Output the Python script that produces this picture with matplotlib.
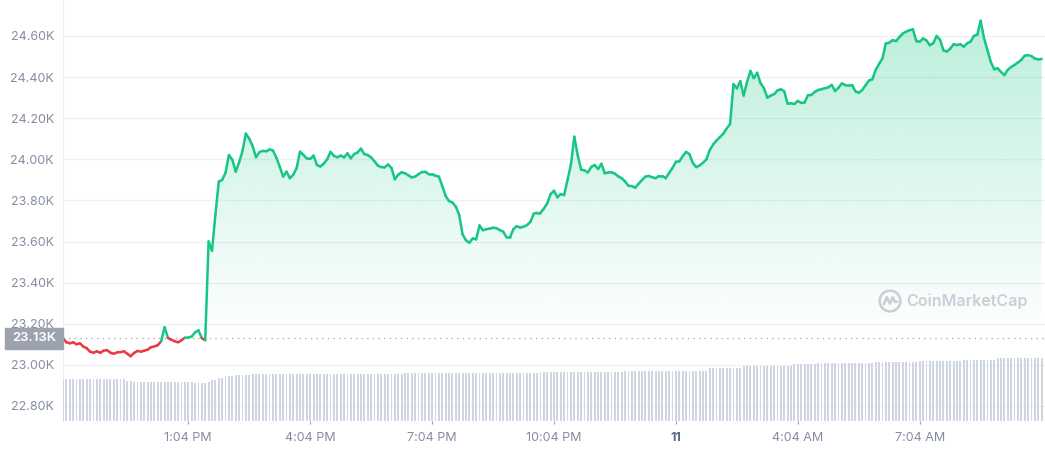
import numpy as np
import pandas as pd
import matplotlib
matplotlib.use('Agg')
import matplotlib.pyplot as plt
import matplotlib.dates as mdates
from matplotlib.collections import LineCollection
from matplotlib.patches import Rectangle, Circle

plt.rcParams['font.family'] = ['Inter', 'DejaVu Sans']

# BTC price, 5-minute steps from 9:59 AM (USD)
start_time = '2022-08-10 09:59'
price = [
    23130, 23110, 23105, 23110, 23100, 23105, 23089, 23081, 23064, 23059,
    23066, 23059, 23069, 23072, 23059, 23054, 23061, 23062, 23066, 23054,
    23042, 23058, 23068, 23064, 23069, 23074, 23086, 23090, 23096, 23115,
    23183, 23131, 23122, 23115, 23110, 23120, 23132, 23133, 23138, 23158,
    23168, 23130, 23120, 23600, 23555, 23730, 23891, 23900, 23935, 24021,
    23998, 23940, 23985, 24040, 24125, 24100, 24065, 24010, 24035, 24041,
    24039, 24048, 24043, 24008, 23965, 23916, 23940, 23908, 23925, 23958,
    24037, 24021, 24004, 24002, 24018, 23972, 23965, 23979, 24000, 24036,
    24017, 24010, 24018, 24010, 24029, 24005, 24026, 24033, 24052, 24025,
    24021, 24009, 23990, 23969, 23962, 23961, 23975, 23958, 23903, 23925,
    23937, 23932, 23922, 23912, 23916, 23928, 23938, 23939, 23928, 23928,
    23920, 23916, 23870, 23822, 23797, 23790, 23770, 23730, 23635, 23606,
    23594, 23615, 23611, 23678, 23655, 23660, 23663, 23667, 23665, 23656,
    23648, 23620, 23620, 23660, 23675, 23668, 23672, 23680, 23695, 23735,
    23740, 23740, 23760, 23786, 23831, 23847, 23815, 23831, 23826, 23900,
    23975, 24110, 24020, 23950, 23946, 23936, 23963, 23972, 23953, 23978,
    23932, 23936, 23937, 23930, 23917, 23908, 23892, 23871, 23870, 23862,
    23882, 23899, 23916, 23919, 23913, 23908, 23919, 23919, 23908, 23934,
    23958, 23988, 23990, 24015, 24036, 24025, 23982, 23962, 23970, 23983,
    24000, 24045, 24072, 24092, 24108, 24125, 24150, 24172, 24366, 24345,
    24380, 24310, 24375, 24430, 24395, 24421, 24370, 24346, 24300, 24310,
    24317, 24335, 24341, 24331, 24270, 24273, 24269, 24284, 24274, 24276,
    24312, 24313, 24328, 24337, 24341, 24346, 24350, 24362, 24332, 24348,
    24369, 24362, 24362, 24362, 24331, 24324, 24337, 24360, 24383, 24389,
    24435, 24464, 24491, 24564, 24567, 24580, 24575, 24595, 24612, 24621,
    24628, 24632, 24575, 24572, 24588, 24578, 24555, 24565, 24600, 24582,
    24530, 24524, 24538, 24560, 24556, 24560, 24548, 24564, 24572, 24600,
    24606, 24674, 24589, 24532, 24473, 24438, 24443, 24425, 24410, 24435,
    24449, 24459, 24471, 24484, 24504, 24507, 24502, 24490, 24486, 24488,
]

# 24h volume (billion USD), same time steps
volume = [
    28.0, 28.0, 28.0, 28.0, 28.0, 28.0, 28.0, 28.0, 28.0, 28.0,
    28.0, 28.0, 28.0, 28.0, 28.0, 28.0, 28.0, 28.0, 28.0, 27.1,
    27.1, 26.2, 26.2, 26.2, 26.2, 26.2, 26.2, 26.2, 26.2, 26.2,
    26.2, 26.2, 26.2, 26.2, 26.2, 26.2, 26.2, 26.2, 26.2, 25.5,
    25.5, 25.5, 25.5, 26.5, 27.5, 27.5, 28.7, 28.7, 30.2, 30.2,
    30.2, 30.9, 30.9, 30.9, 30.9, 30.9, 31.6, 31.6, 31.6, 31.6,
    31.6, 31.6, 31.6, 31.6, 31.6, 31.6, 31.6, 31.6, 31.6, 31.6,
    31.6, 31.6, 31.6, 31.6, 31.6, 31.6, 31.6, 31.6, 31.6, 31.6,
    31.6, 31.6, 31.6, 31.6, 31.6, 31.6, 31.6, 31.6, 31.6, 31.6,
    31.6, 31.6, 31.6, 31.6, 31.6, 31.6, 31.6, 31.6, 31.6, 31.6,
    31.6, 32.2, 32.2, 32.2, 32.2, 32.2, 32.2, 32.2, 32.2, 32.2,
    32.2, 32.2, 32.2, 32.2, 32.2, 32.2, 32.2, 32.2, 32.2, 32.2,
    32.2, 32.2, 32.2, 32.2, 32.2, 32.2, 32.2, 32.2, 32.2, 32.2,
    32.2, 32.2, 32.2, 32.2, 32.2, 32.2, 32.2, 32.2, 32.2, 32.2,
    32.2, 32.9, 32.9, 32.9, 32.9, 32.9, 32.9, 32.9, 32.9, 32.9,
    32.9, 32.9, 32.9, 32.9, 32.9, 32.9, 32.9, 32.9, 32.9, 32.9,
    32.9, 32.9, 32.9, 32.9, 32.9, 32.9, 33.6, 33.6, 33.6, 33.6,
    33.6, 33.6, 33.6, 33.6, 33.6, 33.6, 33.6, 33.6, 33.6, 33.6,
    33.6, 33.6, 33.6, 33.6, 33.6, 33.6, 33.6, 33.6, 33.6, 33.6,
    33.6, 35.6, 35.6, 35.6, 35.6, 35.6, 35.6, 35.6, 35.6, 35.6,
    35.6, 36.9, 36.9, 36.9, 36.9, 36.9, 36.9, 36.9, 36.9, 36.9,
    36.9, 36.9, 36.9, 36.9, 36.9, 36.9, 38.1, 38.1, 38.1, 38.1,
    38.1, 38.1, 38.1, 38.7, 38.7, 38.7, 38.7, 38.7, 38.7, 38.7,
    38.7, 38.7, 38.7, 38.7, 38.7, 38.7, 38.7, 38.7, 38.7, 38.7,
    39.4, 39.4, 39.4, 39.4, 39.4, 39.4, 39.4, 39.4, 39.4, 39.4,
    39.4, 39.4, 39.4, 40.5, 40.5, 40.5, 40.5, 40.5, 40.5, 40.5,
    40.5, 40.5, 40.5, 40.5, 40.5, 40.5, 41.0, 41.0, 41.0, 41.0,
    41.0, 41.0, 41.0, 41.0, 41.0, 41.0, 42.1, 42.1, 42.1, 42.1,
    42.1, 42.1, 42.1, 42.1, 42.1, 42.1, 42.1, 42.1, 42.1, 42.1,
]

open_price = 23130
open_label = '23.13K'
yticks = [22800, 23000, 23200, 23400, 23600, 23800, 24000, 24200, 24400, 24600]
ytick_labels = ['22.80K', '23.00K', '23.20K', '23.40K', '23.60K',
                '23.80K', '24.00K', '24.20K', '24.40K', '24.60K']
xtick_times = ['2022-08-10 13:04', '2022-08-10 16:04', '2022-08-10 19:04',
               '2022-08-10 22:04', '2022-08-11 01:04', '2022-08-11 04:04',
               '2022-08-11 07:04']
xtick_labels = ['1:04 PM', '4:04 PM', '7:04 PM', '10:04 PM', '11', '4:04 AM', '7:04 AM']

GREEN = '#16c784'
RED = '#ea3943'
LABEL = '#858ca2'

times = pd.date_range(start_time, periods=len(price), freq='5min')
x = mdates.date2num(times.to_pydatetime())
p = np.array(price, dtype=float)
step = 5 / 1440

fig = plt.figure(figsize=(10.45, 4.5), dpi=100)
ax = fig.add_axes([63 / 1045, 29 / 450, 982 / 1045, 421 / 450])
ax.set_xlim(x[0], x[0] + 290 * step)
ax.set_ylim(22727, 24775)

# gradient fill above the open price
top = np.maximum(p, open_price)
fb = ax.fill_between(x, open_price, top, color='none', lw=0)
grad = np.zeros((256, 1, 4))
grad[:, 0, 0] = 22 / 255
grad[:, 0, 1] = 199 / 255
grad[:, 0, 2] = 132 / 255
grad[:, 0, 3] = np.linspace(0, 0.31, 256)
img = ax.imshow(grad, extent=[x[0], x[-1], open_price, 24775], origin='lower',
                aspect='auto', interpolation='bilinear', zorder=1)
img.set_clip_path(fb.get_paths()[0], transform=ax.transData)

# price line, red below open, green above
pts = np.column_stack([x, p])
segs = np.stack([pts[:-1], pts[1:]], axis=1)
mid = (p[:-1] + p[1:]) / 2
cols = [GREEN if m >= open_price else RED for m in mid]
lc = LineCollection(segs, colors=cols, linewidths=1.8, capstyle='round',
                    joinstyle='round', zorder=3)
ax.add_collection(lc)

ax.axhline(open_price, color='#9aa1ae', lw=0.9, ls=(0, (1, 3.5)), zorder=2)

ax.set_yticks(yticks, ytick_labels)
ax.set_xticks(mdates.date2num(pd.to_datetime(xtick_times).to_pydatetime()), xtick_labels)
ax.tick_params(axis='y', length=0, pad=6.5, labelsize=9, labelcolor=LABEL)
ax.tick_params(axis='x', length=2.5, width=0.8, color='#9aa3b5', pad=5.5,
               labelsize=9, labelcolor=LABEL)
xl = ax.get_xticklabels()[4]
xl.set_fontweight('bold')
xl.set_color('#58667e')
ax.yaxis.grid(True, color='#eff2f5', lw=1, zorder=0)
ax.set_axisbelow(True)
for s in ['top', 'right', 'bottom']:
    ax.spines[s].set_visible(False)
ax.spines['left'].set_color('#eceff3')

# open price tag on the axis
ytr = ax.get_yaxis_transform()
ax.add_patch(Rectangle((-58 / 982, open_price - 51), 58 / 982, 102, transform=ytr,
                       clip_on=False, color='#9ca3af', zorder=5))
ax.text(-29 / 982, open_price, open_label, transform=ytr, ha='center', va='center',
        color='white', fontsize=9.5, fontweight='semibold', zorder=6)

# volume bars
ax2 = ax.twinx()
ax2.bar(x, volume, width=step * 0.55, color='#cfd6e2', lw=0)
ax2.set_ylim(0, 283)
ax2.axis('off')

# watermark
fig.text(906 / 1045, 1 - 301 / 450, 'CoinMarketCap', ha='left', va='center',
         fontsize=11.6, fontweight='semibold', color='#c9ced7')
lax = fig.add_axes([878 / 1045, 1 - 313 / 450, 24 / 1045, 24 / 450])
lax.set_xlim(-1.1, 1.1)
lax.set_ylim(-1.1, 1.1)
lax.set_aspect('equal')
lax.axis('off')
lax.add_patch(Circle((0, 0), 0.95, fill=False, ec='#c9ced7', lw=1.8))
lax.plot([-0.55, -0.3, 0.0, 0.25, 0.45, 0.65], [-0.3, 0.35, -0.25, 0.35, -0.1, -0.05],
         color='#c9ced7', lw=1.8, solid_joinstyle='round', solid_capstyle='round')

fig.savefig('out.png', dpi=100)
